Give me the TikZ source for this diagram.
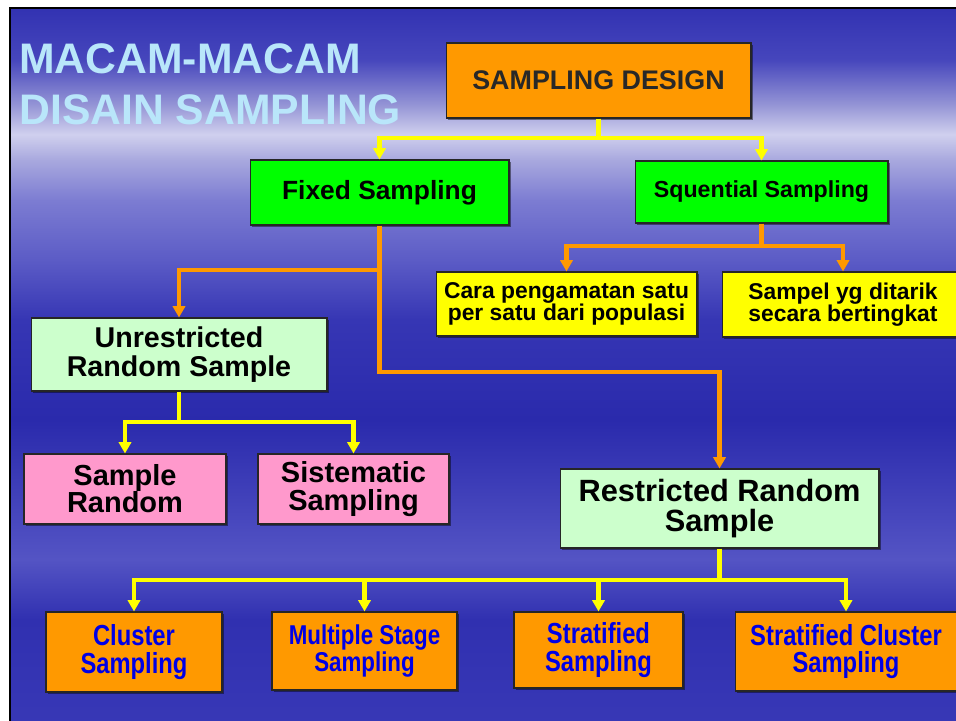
\documentclass[tikz,border=0pt]{standalone}
\usepackage{fontspec}
\setmainfont{Liberation Sans}
\newfontfamily\narrowsans[FakeStretch=0.82]{Liberation Sans}
\usetikzlibrary{arrows.meta,shadows}

\definecolor{bgA}{RGB}{56,56,182}
\definecolor{bgB}{RGB}{48,48,176}
\definecolor{bgC}{RGB}{72,72,190}
\definecolor{bgD}{RGB}{84,84,196}
\definecolor{bgE}{RGB}{42,42,172}
\definecolor{bgF}{RGB}{54,54,180}
\definecolor{bgG}{RGB}{92,92,198}
\definecolor{bgH}{RGB}{124,124,210}
\definecolor{bgK}{RGB}{168,168,222}
\definecolor{bgL}{RGB}{208,208,238}
\definecolor{bgM}{RGB}{150,150,214}
\definecolor{bgN}{RGB}{70,70,188}
\definecolor{bgJ}{RGB}{50,50,178}
\definecolor{titleblue}{RGB}{185,230,250}
\definecolor{boxorange}{RGB}{255,153,0}
\definecolor{boxgreen}{RGB}{0,255,0}
\definecolor{boxyellow}{RGB}{255,255,0}
\definecolor{boxmint}{RGB}{204,255,204}
\definecolor{boxpink}{RGB}{255,153,204}
\definecolor{textblue}{RGB}{0,0,230}
\definecolor{darktext}{RGB}{40,40,40}

% slide gradient: the slide covers 25bp (bottom) to 75bp (top)
\pgfdeclareverticalshading{slidebg}{100bp}{color(0bp)=(bgA); color(25bp)=(bgA);
  color(32.4bp)=(bgB); color(36.6bp)=(bgD); color(39.3bp)=(bgC); color(46.3bp)=(bgE);
  color(53.3bp)=(bgF); color(57.5bp)=(bgG); color(61.6bp)=(bgH); color(64.4bp)=(bgK);
  color(66.2bp)=(bgL); color(68.2bp)=(bgM); color(71.4bp)=(bgN); color(75bp)=(bgJ);
  color(100bp)=(bgJ)}

\begin{document}
\begin{tikzpicture}[x=0.02cm,y=-0.02cm,
    box/.style={draw=black!85,line width=0.6pt,inner sep=0pt,align=center,
      drop shadow={shadow xshift=1.2pt,shadow yshift=-1.2pt,fill=black,opacity=.45}},
    orangebox/.style={box,fill=boxorange},
    greenbox/.style={box,fill=boxgreen,font=\bfseries\fontsize{15}{15}\selectfont},
    yellowbox/.style={box,fill=boxyellow,font=\bfseries\fontsize{13}{12.6}\selectfont},
    mintbox/.style={box,fill=boxmint},
    pinkbox/.style={box,fill=boxpink,font=\bfseries\fontsize{16.5}{15.5}\selectfont},
    leafbox/.style={orangebox,text=textblue,font=\narrowsans\bfseries\fontsize{16.5}{15.5}\selectfont},
    yconn/.style={draw=boxyellow,line width=2.3pt,-{Triangle[width=7pt,length=6.5pt]}},
    oconn/.style={draw=boxorange,line width=2.3pt,-{Triangle[width=7pt,length=6.5pt]}}]

  \useasboundingbox (0,0) rectangle (956,720);
  \clip (0,0) rectangle (956,720);
  \fill[white] (0,0) rectangle (956,720);
  % slide background
  \shade[shading=slidebg] (10,8) rectangle (964,726);
  \draw[black,line width=1.6pt] (10,726) -- (10,8) -- (964,8);

  % title
  \node[anchor=base west,inner sep=0pt,text=titleblue,font=\bfseries\fontsize{24.3}{29}\selectfont]
    (title1) at (19,73) {MACAM-MACAM};
  \node[anchor=base west,inner sep=0pt,text=titleblue,font=\bfseries\fontsize{24.3}{29}\selectfont]
    (title2) at (19,124) {DISAIN SAMPLING};

  % boxes
  \node[orangebox,text=darktext,font=\bfseries\fontsize{15.3}{15}\selectfont,
    minimum width=6.1cm,minimum height=1.5cm] (design) at (598.5,80.5) {SAMPLING DESIGN};
  \node[greenbox,minimum width=5.18cm,minimum height=1.3cm] (fixed) at (379.5,192.5) {Fixed Sampling};
  \node[greenbox,font=\bfseries\fontsize{13.2}{13}\selectfont,
    minimum width=5.06cm,minimum height=1.24cm] (squential) at (761.5,192) {Squential Sampling};
  \node[yellowbox,minimum width=5.22cm,minimum height=1.28cm] (cara) at (566.5,304)
    {Cara pengamatan satu\\per satu dari populasi};
  \node[yellowbox,minimum width=4.84cm,minimum height=1.3cm] (sampel) at (843,304.5)
    {Sampel yg ditarik\\secara bertingkat};
  \node[mintbox,font=\bfseries\fontsize{16.3}{16.3}\selectfont,
    minimum width=5.92cm,minimum height=1.46cm] (unres) at (179,354.5)
    {Unrestricted\\Random Sample};
  \node[pinkbox,minimum width=4.04cm,minimum height=1.4cm] (random) at (125,489)
    {Sample\\Random};
  \node[pinkbox,minimum width=3.82cm,minimum height=1.4cm] (sistematic) at (353.5,489)
    {Sistematic\\Sampling};
  \node[mintbox,font=\bfseries\fontsize{17.5}{17}\selectfont,
    minimum width=6.38cm,minimum height=1.58cm] (restr) at (719.5,508.5)
    {Restricted Random\\Sample};
  \node[leafbox,minimum width=3.52cm,minimum height=1.6cm] (cluster) at (134,652)
    {Cluster\\Sampling};
  \node[leafbox,font=\narrowsans\bfseries\fontsize{15.5}{15}\selectfont,
    minimum width=3.7cm,minimum height=1.56cm] (multiple) at (364.5,651)
    {Multiple Stage\\Sampling};
  \node[leafbox,minimum width=3.38cm,minimum height=1.52cm] (stratified) at (598.5,650)
    {Stratified\\Sampling};
  \node[leafbox,minimum width=4.44cm,minimum height=1.58cm] (stratcluster) at (846,651.5)
    {Stratified Cluster\\Sampling};

  % junctions
  \coordinate (jdesign) at (598.5,138);
  \coordinate (jfixed) at (379.5,270);
  \coordinate (jfixedlow) at (379.5,372);
  \coordinate (jsquential) at (761.5,246);
  \coordinate (junres) at (179,422);
  \coordinate (jrestr) at (719.5,580);

  % connectors
  \draw[yconn] (design.south) -- (jdesign) -| (fixed.north);
  \draw[yconn] (jdesign) -| (squential.north);
  \draw[oconn] (fixed.south) -- (jfixed) -| (unres.north);
  \draw[oconn] (jfixed) -- (jfixedlow) -| (restr.north);
  \draw[oconn] (squential.south) -- (jsquential) -| (cara.north);
  \draw[oconn] (jsquential) -| (sampel.north);
  \draw[yconn] (unres.south) -- (junres) -| (random.north);
  \draw[yconn] (junres) -| (sistematic.north);
  \draw[yconn] (restr.south) -- (jrestr) -| (cluster.north);
  \draw[yconn] (jrestr) -| (multiple.north);
  \draw[yconn] (jrestr) -| (stratified.north);
  \draw[yconn] (jrestr) -| (stratcluster.north);
\end{tikzpicture}
\end{document}
